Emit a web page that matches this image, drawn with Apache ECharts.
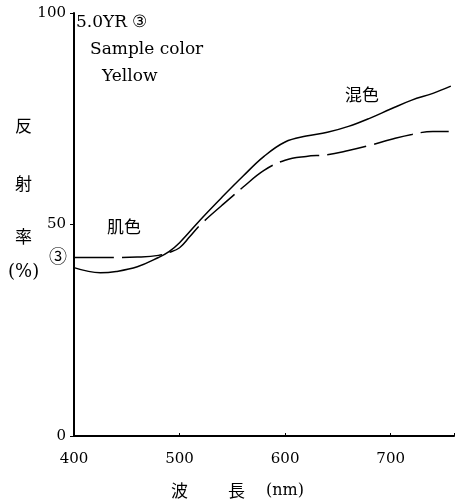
<!DOCTYPE html>
<html><head><meta charset="utf-8">
<script src="https://cdn.jsdelivr.net/npm/echarts@6/dist/echarts.min.js"></script>
<style>html,body{margin:0;padding:0;background:#fff}#c{width:457px;height:504px}</style>
</head><body><div id="c"></div>
<script>
const wavelengthsMixed = [400,425,440,460,480,490,500,520,540,560,580,600,620,640,660,680,700,720,740,757];
const valuesMixed      = [39.8,38.6,38.9,40.0,42.2,43.6,45.7,51.2,56.4,61.4,66.1,69.5,70.9,71.8,73.2,75.1,77.3,79.4,81.0,82.7];
const wavelengthsSkin  = [400,420,440,460,480,490,500,510,520,540,560,580,600,620,640,660,680,700,720,740,755];
const valuesSkin       = [42.2,42.2,42.2,42.3,42.7,43.4,44.5,47.2,50.0,54.5,58.8,62.8,65.2,66.1,66.5,67.5,68.7,70.1,71.3,72.0,72.0];
const xTicks = [400,500,600,700];
const yTicks = [0,50,100];

const serif = '"DejaVu Serif","Liberation Serif",serif';
const cjk = '"Noto Sans CJK JP","Noto Sans CJK SC",sans-serif';
const chart = echarts.init(document.getElementById('c'), null, {renderer:'canvas'});
chart.setOption({
  backgroundColor:'#fff',
  animation:false,
  grid:{left:74,right:2,top:13,bottom:68},
  xAxis:{type:'value',min:400,max:760,interval:100,
    axisLine:{lineStyle:{color:'#000',width:2}},
    axisTick:{show:true,inside:true,length:3,lineStyle:{color:'#000'}},
    splitLine:{show:false},
    axisLabel:{color:'#000',fontFamily:serif,fontSize:15,margin:16,
      formatter:v=>xTicks.includes(v)?String(v):''}},
  yAxis:{type:'value',min:0,max:100,interval:50,
    axisLine:{show:true,lineStyle:{color:'#000',width:2}},
    axisTick:{show:true,length:4,lineStyle:{color:'#000'}},
    splitLine:{show:false},
    axisLabel:{color:'#000',fontFamily:serif,fontSize:15,margin:8,
      formatter:v=>yTicks.includes(v)?String(v):''}},
  series:[
    {type:'line',data:wavelengthsMixed.map((w,i)=>[w,valuesMixed[i]]),smooth:0.4,symbol:'none',
      lineStyle:{color:'#000',width:1.5}},
    {type:'line',data:wavelengthsSkin.map((w,i)=>[w,valuesSkin[i]]),smooth:0.4,symbol:'none',
      lineStyle:{color:'#000',width:1.5,type:[40,8]}}
  ],
  graphic:[
    {type:'text',left:76,top:14,style:{text:'5.0YR ③',font:'17px '+serif,fill:'#000'}},
    {type:'text',left:90,top:41,style:{text:'Sample color',font:'17px '+serif,fill:'#000'}},
    {type:'text',left:102,top:68,style:{text:'Yellow',font:'17px '+serif,fill:'#000'}},
    {type:'text',left:345,top:86,style:{text:'混色',font:'17px '+cjk,fill:'#000'}},
    {type:'text',left:107,top:218,style:{text:'肌色',font:'17px '+cjk,fill:'#000'}},
    {type:'text',left:49,top:247,style:{text:'③',font:'18px '+cjk,fill:'#000'}},
    {type:'text',left:15,top:117,style:{text:'反',font:'17px '+cjk,fill:'#000'}},
    {type:'text',left:15,top:175,style:{text:'射',font:'17px '+cjk,fill:'#000'}},
    {type:'text',left:15,top:228,style:{text:'率',font:'17px '+cjk,fill:'#000'}},
    {type:'text',left:8,top:263,style:{text:'(%)',font:'18px '+serif,fill:'#000'}},
    {type:'text',left:171,top:482,style:{text:'波',font:'17px '+cjk,fill:'#000'}},
    {type:'text',left:228,top:482,style:{text:'長',font:'17px '+cjk,fill:'#000'}},
    {type:'text',left:266,top:483,style:{text:'(nm)',font:'16px '+serif,fill:'#000'}}
  ]
});
</script></body></html>
